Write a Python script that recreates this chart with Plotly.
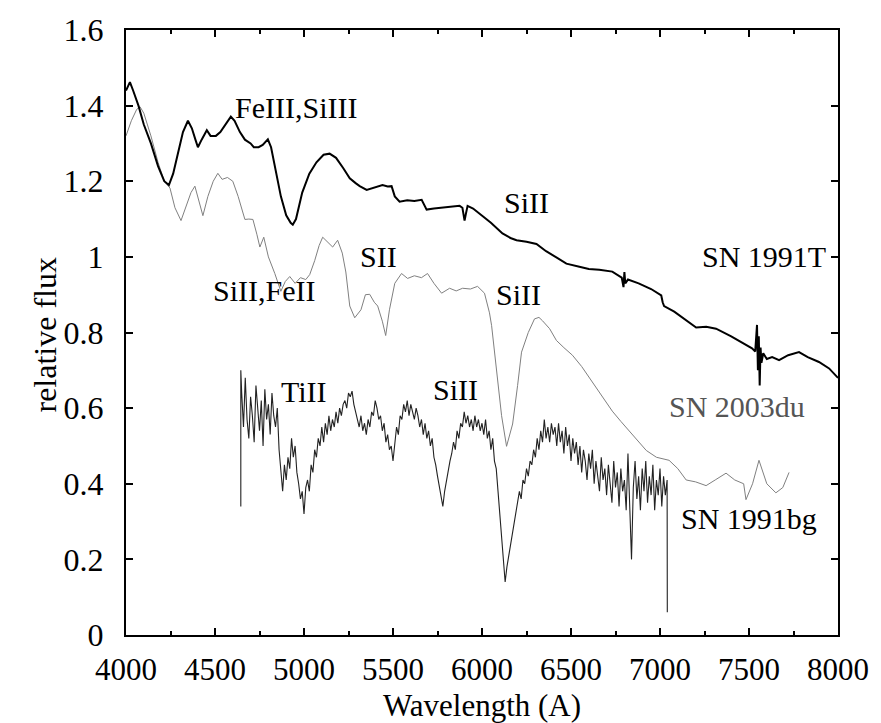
import plotly.graph_objects as go

# SN 1991T (thick black)
t_wl = [4000, 4010, 4022, 4040, 4070, 4100, 4140, 4180, 4215, 4241, 4265, 4290, 4320, 4348, 4370, 4390, 4404,
        4425, 4454, 4475, 4505, 4530, 4560, 4589, 4610, 4640, 4668, 4700, 4718, 4745, 4768, 4797, 4815, 4840,
        4870, 4900, 4925, 4937, 4955, 4990, 5030, 5070, 5110, 5144, 5180, 5220, 5257, 5290, 5313, 5352, 5400,
        5441, 5470, 5492, 5510, 5537, 5580, 5620, 5661, 5689, 5730, 5780, 5830, 5874, 5890, 5902, 5910, 5919,
        5950, 6003, 6050, 6115, 6160, 6194, 6250, 6306, 6360, 6420, 6474, 6547, 6600, 6659, 6732, 6785, 6795,
        6800, 6805, 6820, 6880, 6950, 7007, 7015, 7023, 7080, 7140, 7203, 7260, 7315, 7400, 7470, 7517, 7535,
        7545, 7550, 7555, 7560, 7565, 7570, 7580, 7600, 7630, 7669, 7720, 7781, 7830, 7893, 7950, 8000]
t_fl = [1.44, 1.45, 1.462, 1.44, 1.40, 1.35, 1.30, 1.24, 1.20, 1.19, 1.22, 1.27, 1.33, 1.36, 1.34, 1.31, 1.29,
        1.31, 1.335, 1.32, 1.32, 1.33, 1.35, 1.371, 1.36, 1.33, 1.31, 1.30, 1.29, 1.29, 1.296, 1.311, 1.29, 1.23,
        1.16, 1.11, 1.09, 1.085, 1.10, 1.17, 1.22, 1.25, 1.27, 1.273, 1.262, 1.235, 1.208, 1.195, 1.187, 1.177, 1.183,
        1.19, 1.186, 1.187, 1.16, 1.146, 1.150, 1.148, 1.151, 1.125, 1.128, 1.13, 1.133, 1.135, 1.13, 1.096, 1.115, 1.135,
        1.128, 1.109, 1.09, 1.062, 1.05, 1.044, 1.04, 1.034, 1.015, 0.998, 0.982, 0.974, 0.968, 0.966, 0.961, 0.945, 0.92,
        0.96, 0.93, 0.94, 0.93, 0.915, 0.898, 0.88, 0.87, 0.855, 0.835, 0.813, 0.815, 0.81, 0.79, 0.77, 0.758, 0.75,
        0.82, 0.70, 0.79, 0.66, 0.76, 0.72, 0.745, 0.73, 0.735, 0.727, 0.74, 0.748, 0.735, 0.722, 0.705, 0.68]

# SN 2003du (thin grey)
d_wl = [4000, 4030, 4060, 4079, 4100, 4140, 4180, 4215, 4247, 4275, 4309, 4340, 4365, 4387, 4410, 4432,
        4460, 4490, 4516, 4540, 4570, 4600, 4630, 4668, 4690, 4713, 4735, 4752, 4774, 4800, 4836, 4870, 4895,
        4920, 4950, 4980, 5010, 5032, 5060, 5085, 5105, 5130, 5161, 5189, 5215, 5235, 5250, 5257, 5285, 5320,
        5345, 5369, 5395, 5414, 5440, 5459, 5480, 5510, 5548, 5582, 5620, 5660, 5694, 5730, 5773, 5818, 5855,
        5891, 5935, 5975, 6014, 6042, 6054, 6070, 6087, 6110, 6138, 6172, 6200, 6222, 6260, 6295, 6320, 6340,
        6380, 6418, 6460, 6508, 6560, 6620, 6680, 6732, 6780, 6827, 6870, 6923, 6980, 7051, 7100, 7147, 7200,
        7259, 7310, 7371, 7420, 7470, 7483, 7520, 7556, 7600, 7651, 7690, 7725]
d_fl = [1.32, 1.36, 1.39, 1.397, 1.38, 1.32, 1.25, 1.20, 1.182, 1.13, 1.096, 1.14, 1.17, 1.187, 1.15, 1.109,
        1.16, 1.20, 1.221, 1.205, 1.21, 1.20, 1.16, 1.099, 1.10, 1.099, 1.06, 1.026, 1.052, 1.00, 0.956, 0.909, 0.935,
        0.948, 0.93, 0.945, 0.94, 0.953, 0.99, 1.03, 1.052, 1.04, 1.026, 1.044, 1.01, 0.96, 0.90, 0.870, 0.839, 0.86,
        0.90, 0.901, 0.88, 0.87, 0.83, 0.792, 0.86, 0.93, 0.956, 0.943, 0.95, 0.945, 0.956, 0.93, 0.904, 0.917, 0.91,
        0.917, 0.915, 0.922, 0.904, 0.852, 0.818, 0.75, 0.688, 0.58, 0.499, 0.558, 0.66, 0.748, 0.80, 0.836, 0.84, 0.831,
        0.81, 0.779, 0.76, 0.740, 0.71, 0.670, 0.63, 0.592, 0.565, 0.540, 0.515, 0.488, 0.47, 0.462, 0.44, 0.410, 0.405,
        0.395, 0.41, 0.428, 0.41, 0.40, 0.358, 0.40, 0.462, 0.40, 0.376, 0.39, 0.43]

# SN 1991bg (noisy), sampled every 10 A from 4650 to 7040
b_grid = list(range(4650, 7041, 10))
b_wl = [4645, 4645] + b_grid + [7041]
b_fl = [0.34, 0.70,
        0.64, 0.55, 0.68, 0.57, 0.52, 0.63, 0.58, 0.51, 0.66, 0.60, 0.54, 0.62, 0.50, 0.65, 0.57, 0.61,
        0.53, 0.64, 0.58, 0.55, 0.60, 0.49, 0.44, 0.38, 0.45, 0.41, 0.47, 0.44, 0.52, 0.47, 0.50, 0.43,
        0.40, 0.36, 0.38, 0.32, 0.39, 0.41, 0.38, 0.45, 0.43, 0.49, 0.47, 0.52, 0.50, 0.55, 0.51, 0.56,
        0.53, 0.58, 0.54, 0.57, 0.55, 0.59, 0.56, 0.60, 0.58, 0.61, 0.62, 0.60, 0.64, 0.63, 0.645, 0.61,
        0.59, 0.57, 0.55, 0.58, 0.54, 0.56, 0.53, 0.57, 0.55, 0.59, 0.58, 0.62, 0.60, 0.57, 0.58, 0.54,
        0.56, 0.51, 0.53, 0.49, 0.50, 0.46, 0.51, 0.55, 0.53, 0.58, 0.57, 0.61, 0.59, 0.62, 0.58, 0.61,
        0.59, 0.57, 0.60, 0.58, 0.55, 0.57, 0.53, 0.56, 0.52, 0.54, 0.50, 0.52, 0.47, 0.45, 0.42, 0.39,
        0.36, 0.34, 0.38, 0.41, 0.43, 0.46, 0.48, 0.51, 0.49, 0.54, 0.52, 0.56, 0.55, 0.59, 0.56, 0.58,
        0.55, 0.57, 0.54, 0.58, 0.55, 0.57, 0.54, 0.56, 0.53, 0.57, 0.52, 0.54, 0.49, 0.52, 0.46, 0.44,
        0.38, 0.32, 0.26, 0.20, 0.14, 0.18, 0.21, 0.24, 0.27, 0.29, 0.33, 0.35, 0.38, 0.36, 0.41, 0.40,
        0.44, 0.42, 0.46, 0.45, 0.49, 0.47, 0.52, 0.49, 0.54, 0.51, 0.57, 0.52, 0.55, 0.51, 0.56, 0.53,
        0.55, 0.50, 0.56, 0.51, 0.54, 0.48, 0.55, 0.50, 0.53, 0.46, 0.52, 0.48, 0.51, 0.45, 0.50, 0.43,
        0.49, 0.46, 0.41, 0.48, 0.44, 0.49, 0.40, 0.46, 0.42, 0.38, 0.47, 0.41, 0.44, 0.37, 0.45, 0.40,
        0.35, 0.46, 0.39, 0.43, 0.34, 0.44, 0.38, 0.41, 0.33, 0.48, 0.36, 0.20, 0.39, 0.46, 0.36, 0.42,
        0.33, 0.44, 0.38, 0.46, 0.35, 0.42, 0.37, 0.45, 0.33, 0.41, 0.37, 0.44, 0.34, 0.42, 0.37, 0.41,
        0.06]

x_ticks = [4000, 4500, 5000, 5500, 6000, 6500, 7000, 7500, 8000]
x_ticklabels = ["4000", "4500", "5000", "5500", "6000", "6500", "7000", "7500", "8000"]
y_ticks = [0, 0.2, 0.4, 0.6, 0.8, 1.0, 1.2, 1.4, 1.6]
y_ticklabels = ["0", "0.2", "0.4", "0.6", "0.8", "1", "1.2", "1.4", "1.6"]

labels = [
    ("FeIII,SiIII", 4954, 1.395, "black"),
    ("SiII", 6250, 1.143, "black"),
    ("SN 1991T", 7585, 1.0, "black"),
    ("SII", 5419, 1.0, "black"),
    ("SiII,FeII", 4774, 0.912, "black"),
    ("SiII", 6204, 0.901, "black"),
    ("TiII", 4998, 0.644, "black"),
    ("SiII", 5851, 0.65, "black"),
    ("SN 2003du", 7432, 0.603, "#555555"),
    ("SN 1991bg", 7500, 0.307, "black"),
]

FONT = "Liberation Serif"

fig = go.Figure()
fig.add_trace(go.Scatter(x=d_wl, y=d_fl, mode="lines", line=dict(color="#808080", width=1), showlegend=False))
fig.add_trace(go.Scatter(x=b_wl, y=b_fl, mode="lines", line=dict(color="#222222", width=1.1), showlegend=False))
fig.add_trace(go.Scatter(x=t_wl, y=t_fl, mode="lines", line=dict(color="black", width=2), showlegend=False))

for txt, x, y, c in labels:
    fig.add_annotation(x=x, y=y, text=txt, showarrow=False, xanchor="center", yanchor="middle",
                       font=dict(family=FONT, size=30, color=c))

# axis titles
fig.add_annotation(xref="paper", yref="paper", x=0.5, y=0, yshift=-70, text="Wavelength (A)",
                   showarrow=False, xanchor="center", yanchor="middle", borderpad=0,
                   font=dict(family=FONT, size=31, color="black"))
fig.add_annotation(xref="paper", yref="paper", x=0, y=0.495, xshift=-81, text="relative flux",
                   textangle=-90, showarrow=False, xanchor="center", yanchor="middle",
                   font=dict(family=FONT, size=32, color="black"))

fig.update_layout(
    width=881, height=723,
    margin=dict(l=126, r=42, t=19, b=88),
    paper_bgcolor="white", plot_bgcolor="white",
    font=dict(family=FONT, color="black"),
    xaxis=dict(range=[4000, 8000], tickvals=x_ticks, ticktext=x_ticklabels, ticks="inside", ticklen=7,
               tickwidth=1.5, tickcolor="black", showline=True, linecolor="black", linewidth=2, mirror="ticks",
               showgrid=False, zeroline=False, tickfont=dict(size=31, family=FONT), ticklabelstandoff=6,
               minor=dict(dtick=250, tick0=4000, ticks="inside", ticklen=4, tickcolor="black", showgrid=False)),
    yaxis=dict(range=[0, 1.6], tickvals=y_ticks, ticktext=y_ticklabels, ticks="inside", ticklen=7,
               tickwidth=1.5, tickcolor="black", showline=True, linecolor="black", linewidth=2, mirror="ticks",
               showgrid=False, zeroline=False, tickfont=dict(size=32, family=FONT), ticklabelstandoff=14),
)

fig.write_html("out.html")
